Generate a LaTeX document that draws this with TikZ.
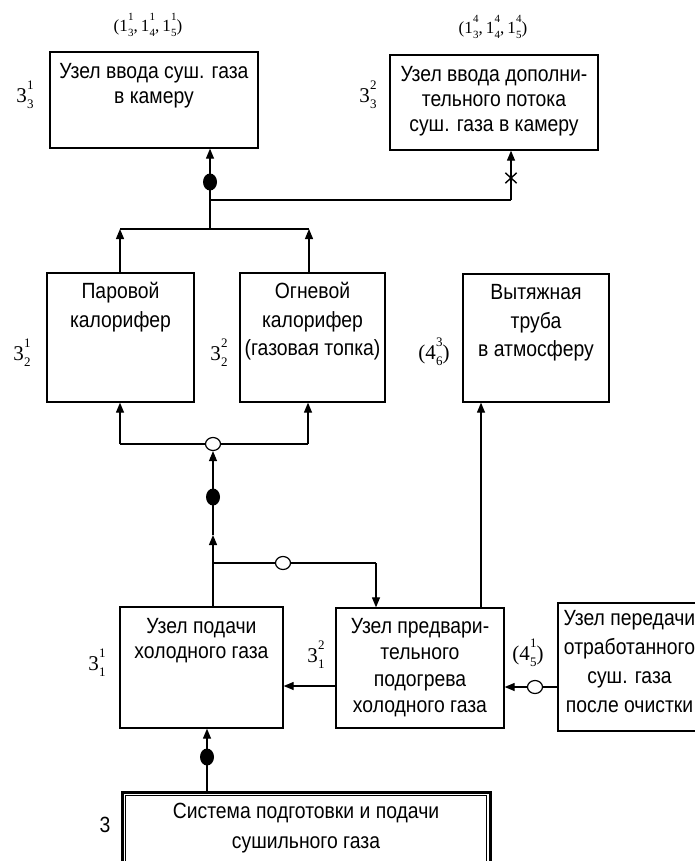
\documentclass[tikz,border=0pt]{standalone}
\usepackage{fontspec}
\setmainfont{Liberation Serif}
\newfontfamily\boxfont{Liberation Sans}[FakeStretch=0.88]
\usetikzlibrary{arrows.meta,shapes.geometric,shapes.misc}
% index with stacked superscript and subscript, set in text fonts
\newcommand{\ixlab}[4]{#1\kern0.4pt\makebox[0pt][l]{\raisebox{0.6em}{\fontsize{#4}{#4}\selectfont#2}}\raisebox{-0.3em}{\fontsize{#4}{#4}\selectfont#3}}

\begin{document}
\begin{tikzpicture}[x=1pt,y=-1pt,
  unit/.style={draw, line width=1.3pt, inner sep=0pt},
  txt/.style={font=\boxfont\fontsize{22}{25}\selectfont, align=center, inner sep=0pt, anchor=north},
  wtxt/.style={font=\boxfont\fontsize{22}{28.5}\selectfont, align=center, inner sep=0pt, anchor=north},
  idx/.style={font=\fontsize{21}{24}\selectfont, inner sep=0pt},
  ref/.style={font=\fontsize{17}{20}\selectfont, inner sep=0pt},
  line/.style={line width=1.2pt},
  arr/.style={line width=1.2pt, -{Triangle[width=8pt,length=10pt]}},
  fdot/.style={ellipse, fill=black, minimum width=14pt, minimum height=17pt, inner sep=0pt},
  odot/.style={ellipse, draw, line width=1.2pt, fill=white, minimum width=15pt, minimum height=13pt, inner sep=0pt},
  xmark/.style={cross out, draw, line width=1.4pt, minimum width=10pt, minimum height=9pt, inner sep=0pt}]

\useasboundingbox (0,0) rectangle (695,861);
\clip (0,0) rectangle (695,861);
\fill[white] (0,0) rectangle (695,861);

% ---- blocks ----
\node[unit, minimum width=208pt, minimum height=96pt]  (A) at (154,100)   {};
\node[unit, minimum width=208pt, minimum height=95pt]  (B) at (494,102.5) {};
\node[unit, minimum width=147pt, minimum height=129pt] (P) at (120.5,337.5) {};
\node[unit, minimum width=145pt, minimum height=129pt] (O) at (312.5,337.5) {};
\node[unit, minimum width=146pt, minimum height=128pt] (V) at (536,338)   {};
\node[unit, minimum width=163pt, minimum height=121pt] (H) at (201.5,667.5) {};
\node[unit, minimum width=168pt, minimum height=120pt] (R) at (420,668)   {};
\node[unit, minimum width=147pt, minimum height=128pt] (T) at (631.5,667) {};
\node[draw, line width=3pt, inner sep=0pt, minimum width=368pt, minimum height=74pt] (S) at (306,829) {};
\draw[line width=1pt] ([shift={(5pt,-5pt)}]S.north west) rectangle ([shift={(-5pt,5pt)}]S.south east);

% ---- block texts ----
\node[txt]  (At) at ([yshift=-12pt]A.north) {Узел ввода суш. газа\\в камеру};
\node[txt]  (Bt) at ([yshift=-12pt]B.north) {Узел ввода дополни-\\тельного потока\\суш. газа в камеру};
\node[wtxt] (Pt) at ([yshift=-10pt]P.north) {Паровой\\калорифер};
\node[wtxt] (Ot) at ([yshift=-10pt]O.north) {Огневой\\калорифер\\(газовая топка)};
\node[wtxt] (Vt) at ([yshift=-11pt]V.north) {Вытяжная\\труба\\в атмосферу};
\node[txt]  (Ht) at ([yshift=-12pt]H.north) {Узел подачи\\холодного газа};
\node[font=\boxfont\fontsize{22}{26.3}\selectfont, align=center, inner sep=0pt, anchor=north]
            (Rt) at ([yshift=-11pt]R.north) {Узел предвари-\\тельного\\подогрева\\холодного газа};
\node[font=\boxfont\fontsize{22}{29}\selectfont, align=center, inner sep=0pt, anchor=north]
            (Tt) at ([xshift=-2pt,yshift=-8pt]T.north) {Узел передачи\\отработанного\\суш. газа\\после очистки};
\node[font=\boxfont\fontsize{22}{30}\selectfont, align=center, inner sep=0pt, anchor=north]
            (St) at ([yshift=-12pt]S.north) {Система подготовки и подачи\\сушильного газа};

% ---- indices ----
\node[ref] (rA) at (148,25) {(\ixlab{1}{1}{3}{11},\,\ixlab{1}{1}{4}{11},\,\ixlab{1}{1}{5}{11})};
\node[ref] (rB) at (493,27) {(\ixlab{1}{4}{3}{11},\,\ixlab{1}{4}{4}{11},\,\ixlab{1}{4}{5}{11})};
\node[idx] (iA) at (25,95)  {\ixlab{3}{1}{3}{13}};
\node[idx] (iB) at (368,95) {\ixlab{3}{2}{3}{13}};
\node[idx] (iP) at (22,353) {\ixlab{3}{1}{2}{13}};
\node[idx] (iO) at (219,353) {\ixlab{3}{2}{2}{13}};
\node[idx] (iV) at (434,352) {(\ixlab{4}{3}{6}{13})};
\node[idx] (iH) at (97,663) {\ixlab{3}{1}{1}{13}};
\node[idx] (iR) at (316,655) {\ixlab{3}{2}{1}{13}};
\node[idx] (iT) at (528,653) {(\ixlab{4}{1}{5}{13})};
\node[font=\boxfont\fontsize{22}{24}\selectfont, inner sep=0pt] (iS) at (105,825) {3};

% ---- junction points ----
\coordinate (j1) at (210,229);
\coordinate (j2) at (210,200);
\coordinate (k2) at (511,200);
\coordinate (pj) at (120,229);
\coordinate (oj) at (309,229);
\coordinate (pb) at (120,444);
\coordinate (ob) at (308,444);
\coordinate (j4) at (213,563);
\coordinate (rj) at (376,563);
\coordinate (m1) at (213,535);
\coordinate (vx) at (481,500);
\coordinate (hy) at (0,686);
\coordinate (ty) at (0,687);
\coordinate (bx) at (207,760);

% ---- markers on the lines ----
\node[fdot]  (d1) at (210,182) {};
\node[xmark] (x1) at (511,178) {};
\node[odot]  (c1) at (213,444) {};
\node[fdot]  (d2) at (213,497) {};
\node[odot]  (c2) at (283,563) {};
\node[odot]  (c3) at (535,687) {};
\node[fdot]  (d3) at (207,757) {};

% ---- heaters to the chamber inlets ----
\draw[arr]  (pj |- P.north) -- (pj);
\draw[arr]  (oj |- O.north) -- (oj);
\draw[line] (pj) -- (oj);
\draw[arr]  (j1) -- (j1 |- A.south);
\draw[line] (j2) -- (k2);
\draw[arr]  (k2) -- (k2 |- B.south);

% ---- cold gas to the heaters ----
\draw[line] (pb) -- (c1.west);
\draw[line] (c1.east) -- (ob);
\draw[arr]  (pb) -- (pb |- P.south);
\draw[arr]  (ob) -- (ob |- O.south);
\draw[arr]  (m1 |- H.north) -- (m1);
\draw[arr]  (m1) -- (c1.south);
\draw[line] (j4) -- (c2.west);
\draw[line] (c2.east) -- (rj);
\draw[arr]  (rj) -- (rj |- R.north);

% ---- exhaust, preheating, return ----
\draw[arr]  (vx |- R.north) -- (vx |- V.south);
\draw[arr]  (R.west |- hy) -- (H.east |- hy);
\draw[line] (T.west |- ty) -- (c3.east);
\draw[arr]  (c3.west) -- (R.east |- ty);
\draw[arr]  (bx |- S.north) -- (bx |- H.south);
\end{tikzpicture}
\end{document}
